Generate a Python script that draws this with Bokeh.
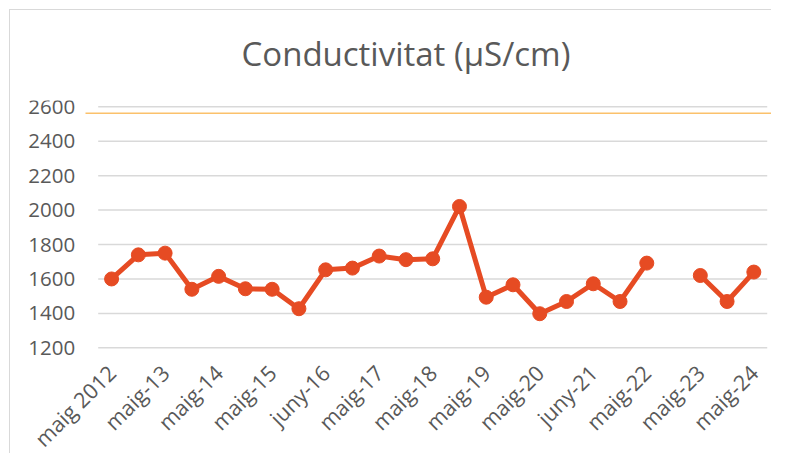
import math
from bokeh.plotting import figure
from bokeh.models import Range1d, FixedTicker, Title
from bokeh.embed import file_html
from bokeh.resources import INLINE

# ---- data ----
categories = [
    "maig 2012", "nov-12", "maig-13", "nov-13", "maig-14", "nov-14",
    "maig-15", "nov-15", "juny-16", "nov-16", "maig-17", "nov-17",
    "maig-18", "nov-18", "maig-19", "nov-19", "maig-20", "nov-20",
    "juny-21", "nov-21", "maig-22", "nov-22", "maig-23", "nov-23", "maig-24",
]
conductivity = [
    1600, 1740, 1750, 1540, 1615, 1543, 1540, 1427, 1653, 1663,
    1733, 1712, 1717, 2021, 1494, 1566, 1398, 1469, 1572, 1469,
    1692, float("nan"), 1620, 1469, 1640,
]
y_ticks = [1200, 1400, 1600, 1800, 2000, 2200, 2400, 2600]
label_every = 2
limit_value = 2563

n = len(categories)
x = list(range(n))
label_ticks = list(range(0, n, label_every))

TEXT = "#595959"
FONT = "Open Sans"
GRID = "#d9d9d9"

band_start = -0.5          # left edge of the category band
limit_line_start = -0.975  # the reference line starts a little left of the band

p = figure(
    width=771, height=453, output_backend="svg", toolbar_location=None,
    x_range=Range1d(-4.151, n - 0.34), y_range=Range1d(586, 2636.7),
    min_border_left=0, min_border_right=0, min_border_top=100, min_border_bottom=0,
    outline_line_color=None, background_fill_color=None, border_fill_color=None,
)
p.styles = {
    "background": (
        f"linear-gradient({GRID},{GRID}) 9px 9px / 1px calc(100% - 9px) no-repeat, "
        f"linear-gradient({GRID},{GRID}) 9px 9px / calc(100% - 9px) 1px no-repeat, #ffffff"
    )
}

p.add_layout(Title(text="Conductivitat (µS/cm)", align="left", offset=241,
                   text_font=FONT, text_font_size="33px", text_font_style="normal",
                   text_color=TEXT, standoff=50), "above")

p.xgrid.visible = False
p.ygrid.visible = False

# horizontal gridlines limited to the category band
p.segment(x0=band_start, x1=n - 0.5, y0=y_ticks, y1=y_ticks, line_color=GRID, line_width=1.5)

# reference line
p.ray(x=limit_line_start, y=limit_value, length=0, angle=0, line_color="#fbc16b", line_width=1.5)

# series
p.line(x, conductivity, line_color="#e64b23", line_width=5)
p.scatter(x, conductivity, size=14, fill_color="#e64b23", line_color="#e64b23")

# x axis: drawn at the bottom gridline, rotated labels for every other category
p.xaxis.fixed_location = y_ticks[0]
p.xaxis.ticker = FixedTicker(ticks=label_ticks)
p.xaxis.major_label_overrides = {i: categories[i] for i in label_ticks}
p.xaxis.major_label_orientation = math.pi / 4
p.xaxis.axis_line_color = None
p.xaxis.major_tick_line_color = None
p.xaxis.major_tick_out = 0
p.xaxis.major_tick_in = 0
p.xaxis.minor_tick_line_color = None
p.xaxis.major_label_standoff = 21
p.xaxis.major_label_text_font = FONT
p.xaxis.major_label_text_font_size = "21.5px"
p.xaxis.major_label_text_color = TEXT

# y axis: drawn at the left edge of the category band
p.yaxis.fixed_location = band_start
p.yaxis.ticker = FixedTicker(ticks=y_ticks)
p.yaxis.axis_line_color = None
p.yaxis.major_tick_line_color = None
p.yaxis.major_tick_out = 0
p.yaxis.major_tick_in = 0
p.yaxis.minor_tick_line_color = None
p.yaxis.major_label_standoff = 23
p.yaxis.major_label_text_font = FONT
p.yaxis.major_label_text_font_size = "20.5px"
p.yaxis.major_label_text_color = TEXT

open("out.html", "w").write(file_html(p, INLINE))
